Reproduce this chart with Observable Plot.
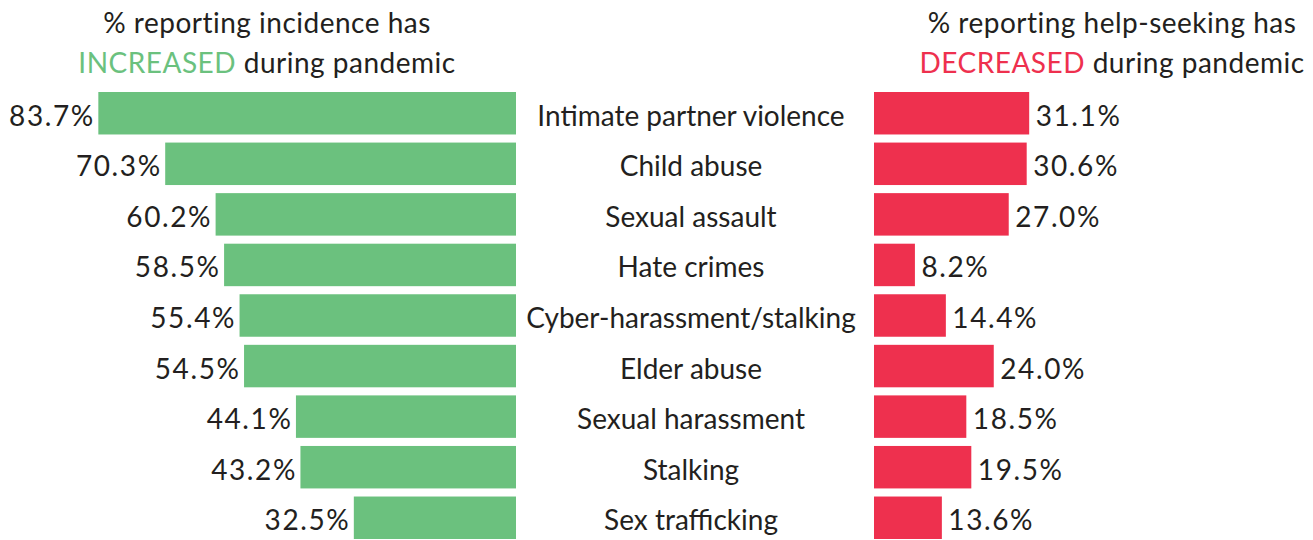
<!DOCTYPE html>
<html>
<head>
<meta charset="utf-8">
<script src="https://cdn.jsdelivr.net/npm/d3@7"></script>
<script src="https://cdn.jsdelivr.net/npm/@observablehq/plot@0.6"></script>
<style>
  html, body { margin: 0; padding: 0; background: #fff; }
  #wrap { position: relative; width: 1313px; height: 540px; overflow: hidden;
          font-family: Lato, "Noto Sans", sans-serif; color: #231f20; }
  .title { position: absolute; top: 2px; text-align: center; font-size: 28px; line-height: 40px; white-space: nowrap; letter-spacing: 0.5px; }
  .panel { position: absolute; top: 88px; }
  svg { overflow: visible; }
  .valplot text { letter-spacing: 1.6px; }
</style>
</head>
<body>
<div id="wrap"></div>
<script>
const categories = ["Intimate partner violence", "Child abuse", "Sexual assault", "Hate crimes",
  "Cyber-harassment/stalking", "Elder abuse", "Sexual harassment", "Stalking", "Sex trafficking"];
const increased = [83.7, 70.3, 60.2, 58.5, 55.4, 54.5, 44.1, 43.2, 32.5];
const decreased = [31.1, 30.6, 27.0, 8.2, 14.4, 24.0, 18.5, 19.5, 13.6];
const titleLeft = ["% reporting incidence has", "INCREASED", " during pandemic"];
const titleRight = ["% reporting help-seeking has", "DECREASED", " during pandemic"];

const GREEN = "#6bc17e", RED = "#ee304e", INK = "#231f20";
const FONT = "Lato, 'Noto Sans', sans-serif";
const PX = 4.99; // pixels per percentage point
const H = 452;

const rowsL = categories.map((c, i) => ({cat: c, v: increased[i]}));
const rowsR = categories.map((c, i) => ({cat: c, v: decreased[i]}));

const yScale = {type: "band", domain: categories, paddingInner: 0.16, paddingOuter: 0, round: false, axis: null};
const common = {height: H, marginTop: 4, marginBottom: 1, style: {fontFamily: FONT, fontSize: "28px", color: INK, background: "transparent"}};

const wrap = document.getElementById("wrap");

function title(parts, color, center) {
  const d = document.createElement("div");
  d.className = "title";
  d.style.left = (center - 300) + "px";
  d.style.width = "600px";
  d.innerHTML = `<div>${parts[0]}</div><div><span style="color:${color}">${parts[1]}</span>${parts[2]}</div>`;
  wrap.appendChild(d);
}
title(titleLeft, GREEN, 267);
title(titleRight, RED, 1112);

const leftW = 516;
const left = Plot.plot({
  ...common, width: leftW, marginLeft: 0, marginRight: 0, className: "valplot",
  x: {domain: [0, leftW / PX], reverse: true, axis: null},
  y: yScale,
  marks: [
    Plot.barX(rowsL, {x: "v", y: "cat", fill: GREEN}),
    Plot.text(rowsL, {x: "v", y: "cat", text: d => d.v.toFixed(1) + "%", textAnchor: "end", dx: -4, dy: 3, fill: INK, fontSize: 28})
  ]
});
left.classList.add("panel"); left.style.left = "0px";
wrap.appendChild(left);

const midW = 358;
const mid = Plot.plot({
  ...common, width: midW, marginLeft: 0, marginRight: 9,
  y: yScale,
  marks: [
    Plot.text(rowsL, {y: "cat", text: "cat", fill: INK, fontSize: 28, dy: 3})
  ]
});
mid.classList.add("panel"); mid.style.left = "516px";
wrap.appendChild(mid);

const rightW = 439;
const right = Plot.plot({
  ...common, width: rightW, marginLeft: 0, marginRight: 0, className: "valplot",
  x: {domain: [0, rightW / PX], axis: null},
  y: yScale,
  marks: [
    Plot.barX(rowsR, {x: "v", y: "cat", fill: RED}),
    Plot.text(rowsR, {x: "v", y: "cat", text: d => d.v.toFixed(1) + "%", textAnchor: "start", dx: 6, dy: 3, fill: INK, fontSize: 28})
  ]
});
right.classList.add("panel"); right.style.left = "874px";
wrap.appendChild(right);
</script>
</body>
</html>
